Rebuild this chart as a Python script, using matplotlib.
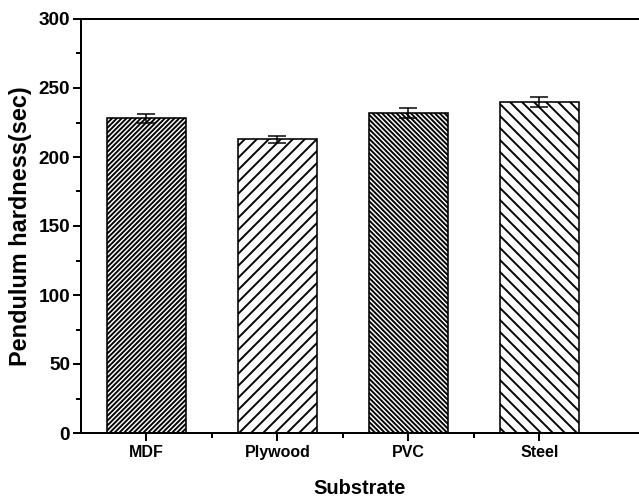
import matplotlib
matplotlib.use('Agg')
import matplotlib.pyplot as plt
from matplotlib.ticker import MultipleLocator, FixedLocator

substrates = ['MDF', 'Plywood', 'PVC', 'Steel']
hardness = [228, 213, 232, 240]
errors = [3.5, 2.5, 3.5, 3.5]
hatches = ['/////', '//', '\\\\\\\\\\', '\\\\']

plt.rcParams['font.family'] = ['Liberation Sans', 'DejaVu Sans']
plt.rcParams['font.weight'] = 'bold'
plt.rcParams['hatch.linewidth'] = 1.9

fig = plt.figure(figsize=(639 / 72, 500 / 72), dpi=72)
ax = fig.add_axes([81 / 639, 67 / 500, 1 - 81 / 639, 414 / 500])

x = list(range(len(substrates)))
bars = ax.bar(x, hardness, width=0.6, color='white', edgecolor='black',
              linewidth=1.6, zorder=2)
for b, h in zip(bars, hatches):
    b.set_hatch(h)
ax.errorbar(x, hardness, yerr=errors, fmt='none', ecolor='black',
            elinewidth=1.5, capsize=9, capthick=1.5, zorder=3)

ax.set_xlim(-0.5, 3.76)
ax.set_ylim(0, 300)
ax.yaxis.set_major_locator(MultipleLocator(50))
ax.yaxis.set_minor_locator(MultipleLocator(25))
ax.set_xticks(x)
ax.set_xticklabels(substrates)
ax.xaxis.set_minor_locator(FixedLocator([0.5, 1.5, 2.5]))

ax.spines['right'].set_visible(False)
for s in ['left', 'bottom', 'top']:
    ax.spines[s].set_linewidth(2)

ax.tick_params(axis='both', which='major', direction='out', length=8,
               width=2, labelsize=16, pad=4)
ax.tick_params(axis='both', which='minor', direction='out', length=5, width=2)
ax.tick_params(axis='y', labelsize=19, pad=3)

ax.set_xlabel('Substrate', fontsize=20, fontweight='bold', labelpad=19)
ax.set_ylabel('Pendulum hardness(sec)', fontsize=23.5, fontweight='bold',
              labelpad=6)

fig.savefig('out.png', dpi=72)
